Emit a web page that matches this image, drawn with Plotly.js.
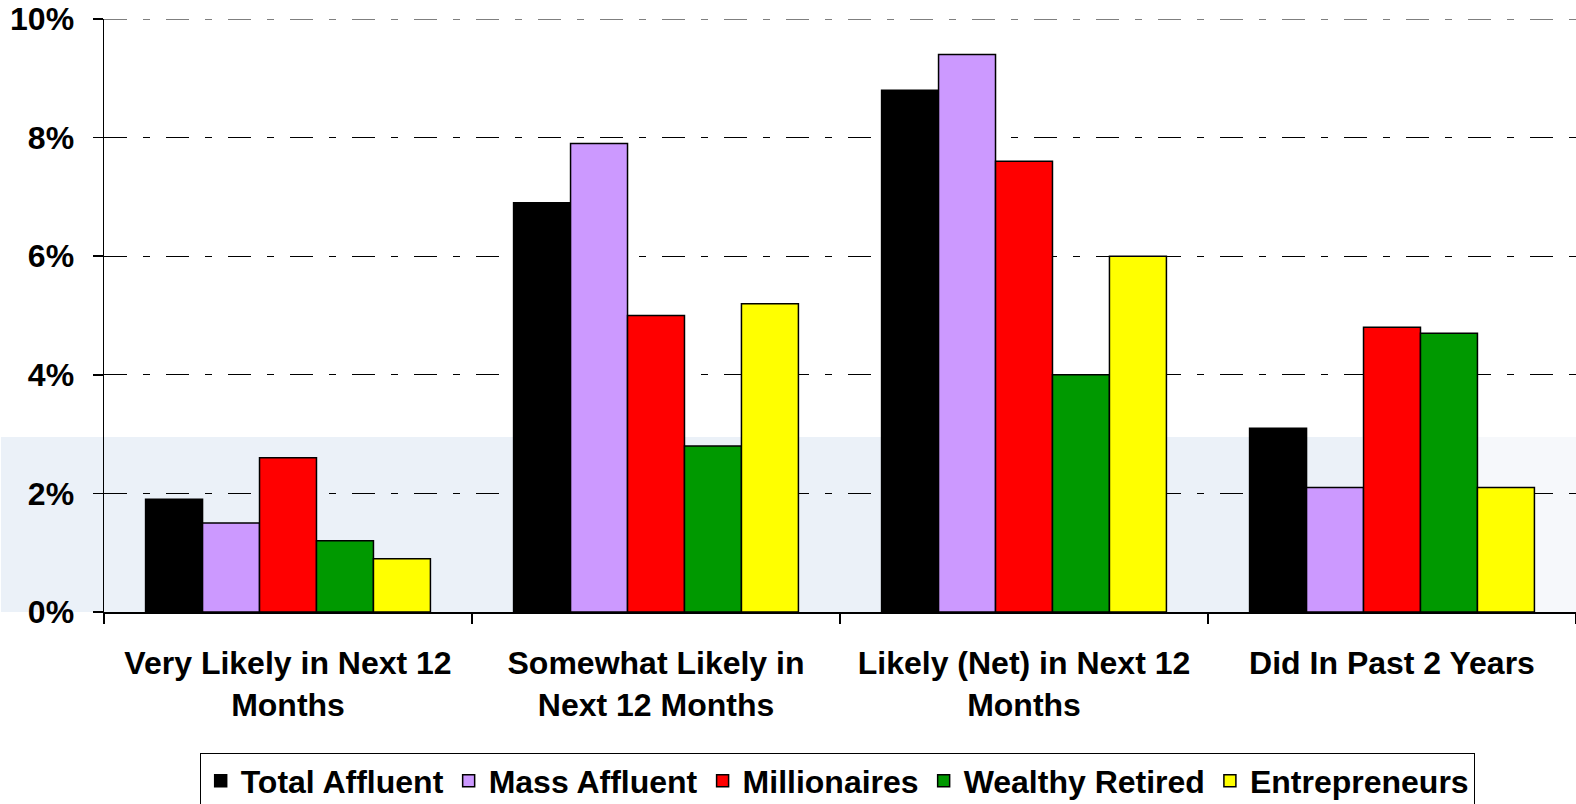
<!DOCTYPE html>
<html>
<head>
<meta charset="utf-8">
<script src="https://cdn.plot.ly/plotly-3.0.1.min.js"></script>
<style>
  html, body { margin: 0; padding: 0; background: #ffffff; }
  #chart { width: 1576px; height: 804px; }
</style>
</head>
<body>
<div id="chart"></div>
<script>
// Survey categories (x axis)
const categories = [
  'Very Likely in Next 12<br>Months',
  'Somewhat Likely in<br>Next 12 Months',
  'Likely (Net) in Next 12<br>Months',
  'Did In Past 2 Years'
];

// Share of each segment, in percent
const totalAffluent  = [1.9, 6.9, 8.8, 3.1];
const massAffluent   = [1.5, 7.9, 9.4, 2.1];
const millionaires   = [2.6, 5.0, 7.6, 4.8];
const wealthyRetired = [1.2, 2.8, 4.0, 4.7];
const entrepreneurs  = [0.9, 5.2, 6.0, 2.1];

const seriesNames  = ['Total Affluent', 'Mass Affluent', 'Millionaires', 'Wealthy Retired', 'Entrepreneurs'];
const seriesValues = [totalAffluent, massAffluent, millionaires, wealthyRetired, entrepreneurs];
const seriesColors = ['#000000', '#CC99FF', '#FF0000', '#009900', '#FFFF00'];

const yTicks = [0, 2, 4, 6, 8, 10];
const yMax = 10;

const FONT = '"Liberation Sans", Arial, Helvetica, sans-serif';
const GRID_DASH = '23px,16px,7px,16px';

const traces = seriesNames.map((name, i) => ({
  type: 'bar',
  name: name,
  x: categories,
  y: seriesValues[i],
  marker: { color: seriesColors[i], line: { color: '#000000', width: 1.5 } },
  hoverinfo: 'skip'
}));

const layout = {
  width: 1576,
  height: 804,
  margin: { l: 104, r: 0, t: 19, b: 192, pad: 0 },
  paper_bgcolor: '#ffffff',
  plot_bgcolor: 'rgba(0,0,0,0)',
  barmode: 'group',
  bargap: 0.226,
  bargroupgap: 0,
  font: { family: FONT, size: 32, color: '#000000', weight: 'bold' },
  showlegend: true,
  legend: {
    orientation: 'h',
    xref: 'paper', x: 0.065, xanchor: 'left',
    yref: 'container', y: 0.064, yanchor: 'top',
    bgcolor: '#ffffff',
    bordercolor: '#000000',
    borderwidth: 1,
    font: { family: FONT, size: 32, color: '#000000', weight: 'bold' },
    itemwidth: 30,
    traceorder: 'normal',
    itemclick: false,
    itemdoubleclick: false
  },
  xaxis: {
    type: 'category',
    automargin: false,
    showline: true,
    linecolor: '#000000',
    linewidth: 1.5,
    ticks: 'outside',
    tickson: 'boundaries',
    ticklen: 10,
    tickwidth: 1.5,
    tickcolor: '#000000',
    showgrid: false,
    zeroline: false,
    ticklabelstandoff: 22,
    tickfont: { family: FONT, size: 32, color: '#000000', weight: 'bold' },
    fixedrange: true
  },
  yaxis: {
    range: [0, yMax],
    automargin: false,
    tickvals: yTicks,
    ticktext: yTicks.map(v => v + '%'),
    showline: true,
    linecolor: '#000000',
    linewidth: 1.5,
    ticks: 'outside',
    ticklen: 10,
    tickwidth: 1.5,
    tickcolor: '#000000',
    showgrid: true,
    gridcolor: '#000000',
    gridwidth: 1,
    griddash: GRID_DASH,
    zeroline: false,
    ticklabelstandoff: 12,
    tickfont: { family: FONT, size: 32, color: '#000000', weight: 'bold' },
    fixedrange: true
  },
  shapes: [
    // pale backdrop band behind the lower part of the plot
    {
      type: 'rect', layer: 'below',
      xref: 'paper', yref: 'y',
      x0: -0.07, x1: 0.855, y0: 0, y1: 2.95,
      fillcolor: '#e9eff7', line: { width: 0 }, opacity: 0.9
    },
    {
      type: 'rect', layer: 'below',
      xref: 'paper', yref: 'y',
      x0: 0.855, x1: 1, y0: 0, y1: 2.95,
      fillcolor: '#f5f7fb', line: { width: 0 }, opacity: 0.9
    },
    // gridline at the top of the value range (edge gridlines are not drawn by the axis)
    {
      type: 'line', layer: 'below',
      xref: 'paper', yref: 'y',
      x0: 0, x1: 1, y0: yMax, y1: yMax,
      line: { color: '#000000', width: 1, dash: GRID_DASH }
    }
  ]
};

Plotly.newPlot('chart', traces, layout, { displayModeBar: false, staticPlot: true });
</script>
</body>
</html>
